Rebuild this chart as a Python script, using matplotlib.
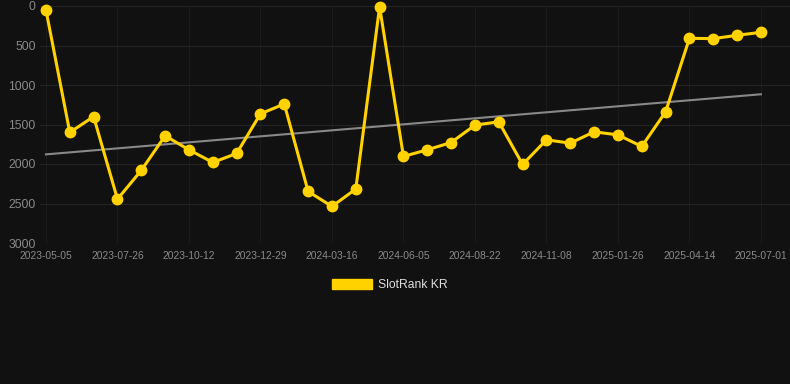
import numpy as np
import matplotlib
matplotlib.use("Agg")
import matplotlib.pyplot as plt
from matplotlib.patches import Patch

plt.rcParams['font.family'] = ['Liberation Sans', 'DejaVu Sans']

ranks = [50, 1600, 1400, 2445, 2080, 1643, 1820, 1980, 1867, 1365, 1240,
         2347, 2537, 2317, 10, 1904, 1820, 1728, 1508, 1466, 2006, 1694,
         1736, 1593, 1631, 1778, 1340, 409, 413, 371, 333]
tick_labels = ['2023-05-05', '2023-07-26', '2023-10-12', '2023-12-29',
               '2024-03-16', '2024-06-05', '2024-08-22', '2024-11-08',
               '2025-01-26', '2025-04-14', '2025-07-01']
series_name = 'SlotRank KR'

bg = '#111111'
gold = '#FFD200'

fig = plt.figure(figsize=(7.9, 3.84), dpi=100, facecolor=bg)
ax = fig.add_axes([40/790, 1-243/384, 750/790, (243-6)/384])
ax.set_facecolor(bg)

x = np.arange(len(ranks))
coef = np.polyfit(x, ranks, 1)
ax.plot(x, np.polyval(coef, x), color='#888888', lw=1.5, zorder=2)
ax.plot(x, ranks, color=gold, lw=2.2, marker='o', ms=7.5, mfc=gold, mec=gold,
        zorder=3, clip_on=False)

ax.set_ylim(3000, 0)
ax.set_yticks([0, 500, 1000, 1500, 2000, 2500, 3000])
ax.set_xlim(-0.25, 31.22)
ax.set_xticks(x[::3])
ax.set_xticklabels(tick_labels)

ax.grid(True, axis='y', color='#242424', lw=0.8)
ax.grid(True, axis='x', color='#1b1b1b', lw=0.8)
for s in ax.spines.values():
    s.set_visible(False)
ax.tick_params(axis='y', length=0, pad=3, labelsize=8.8, labelcolor='#8a8a8a')
ax.tick_params(axis='x', length=0, pad=6, labelsize=7.4, labelcolor='#8a8a8a')

h = Patch(facecolor=gold, edgecolor=gold)
fig.legend([h], [series_name], loc='center', bbox_to_anchor=(0.494, 0.258),
           frameon=False, fontsize=8.7, labelcolor='#dddddd',
           handlelength=3.3, handleheight=0.9, handletextpad=0.5)

fig.savefig('out.png', dpi=100, facecolor=bg)
